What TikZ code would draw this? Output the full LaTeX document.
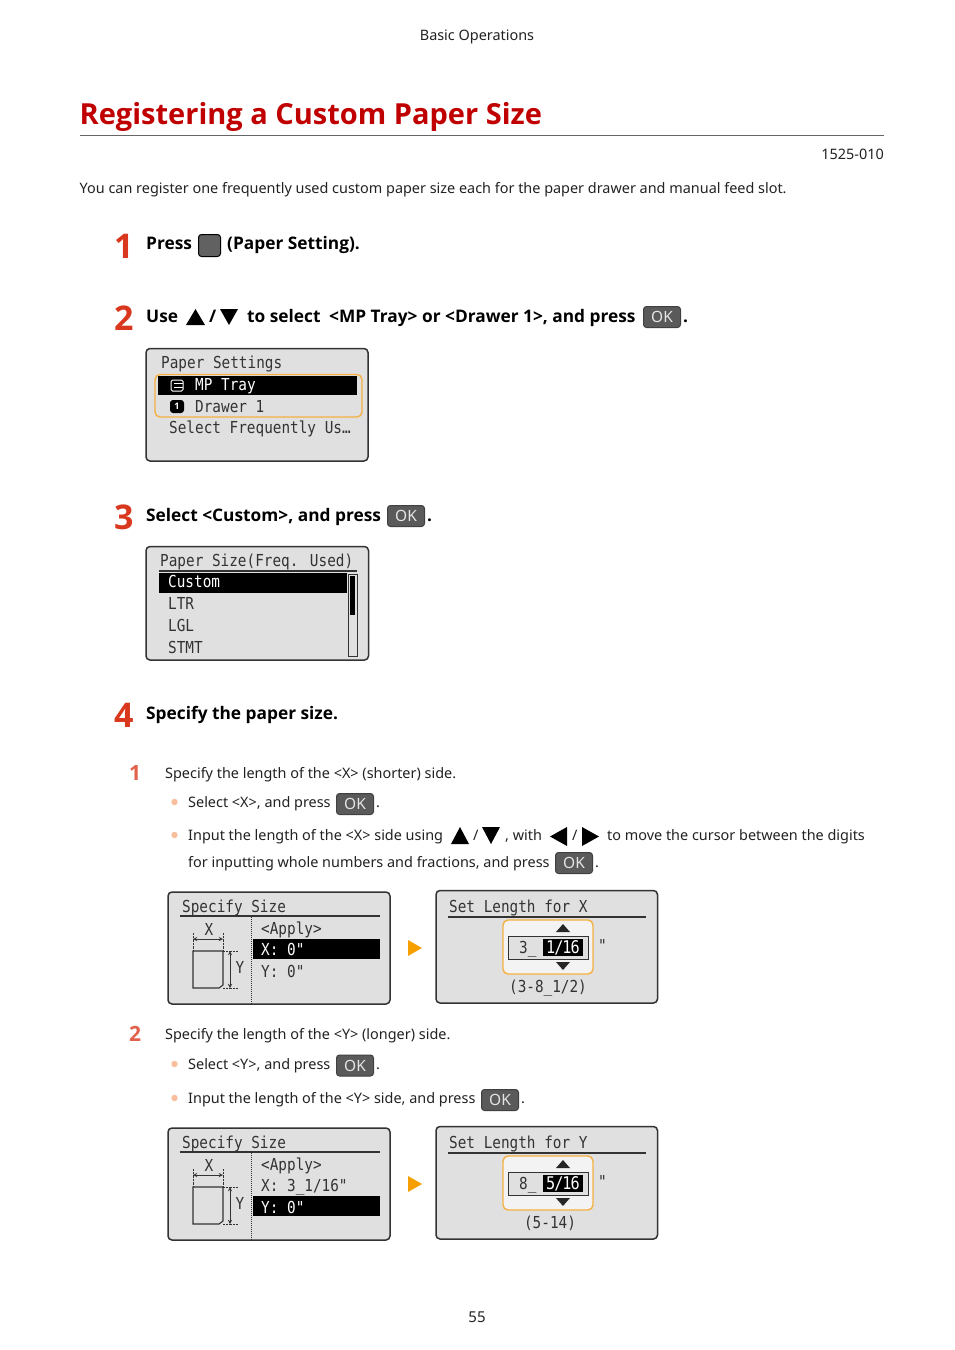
\documentclass[tikz,border=0pt]{standalone}
\usepackage{fontspec}
\usepackage{xcolor}
\setmainfont{Noto Sans}
\newfontfamily\headfont{Open Sans}
\newfontfamily\lcdfont[FakeStretch=0.87]{DejaVu Sans Mono}
\definecolor{titlered}{HTML}{C00000}
\definecolor{numred}{HTML}{D9381E}
\definecolor{subred}{HTML}{E2614B}
\definecolor{bodyink}{HTML}{222222}
\definecolor{lcdgray}{HTML}{E0E0E0}
\definecolor{lcdink}{HTML}{333333}
\definecolor{keygray}{HTML}{5A5A5A}
\definecolor{hilite}{HTML}{F5B041}
\definecolor{nextarrow}{HTML}{F5A000}
\definecolor{bulletc}{HTML}{F9BE9B}
\tikzset{
    txt/.style = {anchor=base west, inner sep=0pt, text=bodyink, font=\fontsize{14.42}{17}\selectfont},
    stepnum/.style = {anchor=base west, inner sep=0pt, text=numred, font=\fontsize{34}{40}\headfont\bfseries},
    subnum/.style = {anchor=base west, inner sep=0pt, text=subred, font=\fontsize{21}{25}\headfont\bfseries},
    steptxt/.style = {anchor=base west, inner sep=0pt, text=black, font=\fontsize{17.3}{21}\headfont\bfseries},
    lcd/.style = {anchor=base west, inner sep=0pt, text=lcdink, font=\fontsize{16.5}{19}\lcdfont},
    lcdrev/.style = {lcd, text=white},
    lcdpanel/.style = {draw=lcdink, line width=1.5pt, fill=lcdgray, rounded corners=4pt},
    hibox/.style = {draw=hilite, line width=1.4pt, fill=lcdgray!40, rounded corners=5pt},
    okkey/.style = {draw=black!75, fill=keygray, line width=1pt, rounded corners=3pt, minimum width=37pt,
        minimum height=21pt, inner sep=0pt, text=white!90!black, font=\fontsize{15.5}{17}\selectfont},
}
% OK key at its centre
\newcommand{\okkey}[3]{\node[okkey] (#1) at (#2,#3) {OK};}
% bullet dot
\newcommand{\bulletdot}[2]{\fill[bulletc] (#1,#2) circle (3.2);}
% left panel, the row bar is given by its top
\newcommand{\sizepanel}[4]{
    \draw[lcdpanel] (168,892) rectangle (390,1004);
    \node[lcd] (#1title) at (182,912) {Specify Size};
    \draw[lcdink, line width=1.2pt] (180,916) -- (380,916);
    \draw[lcdink, line width=1pt, densely dotted] (251,917) -- (251,1004);
    \fill[black] (253,#2) rectangle (380,#2+20);
    \node[lcd] (#1apply) at (261,934) {<Apply>};
    \draw[lcdink, line width=1.1pt] (193,951) -- (223,951) -- (223,985) -- (219,988) -- (193,988) -- cycle;
    \draw[lcdink, densely dotted] (193,933) -- (193,951) (223,933) -- (223,951) (223,951) -- (238,951) (223,988) -- (238,988);
    \coordinate (#1xa) at (193,939);
    \coordinate (#1xb) at (223,939);
    \coordinate (#1ya) at (230,951);
    \coordinate (#1yb) at (230,988);
    \draw[lcdink, line width=.9pt, <->, >=stealth] (#1xa) -- (#1xb);
    \draw[lcdink, line width=.9pt, <->, >=stealth] (#1ya) -- (#1yb);
    \node[lcd, anchor=base] (#1xl) at (209,935) {X};
    \node[lcd, anchor=base] (#1yl) at (240,973) {Y};
    \node[#3] (#1xrow) at (261,955) {X: #4};
}
% right panel
\newcommand{\lengthpanel}[7]{
    \draw[lcdpanel] (436,890.5) rectangle (657.5,1003);
    \node[lcd] (#1title) at (449,912) {Set Length for #2};
    \draw[lcdink, line width=1.2pt] (448,917) -- (646,917);
    \draw[hibox] (503,920) rectangle (593,974);
    \fill[black!85] (563,924) -- (570,932) -- (556,932) -- cycle;
    \fill[black!85] (563,970) -- (570,962) -- (556,962) -- cycle;
    \draw[lcdink, line width=1pt, fill=lcdgray] (508,936) rectangle (588,959);
    \fill[black] (543,939) rectangle (583,956);
    \node[lcd] (#1whole) at (519,953) {#3\_};
    \node[lcdrev, anchor=base] (#1frac) at (563,953) {\fontsize{17.5}{19}\selectfont\addfontfeature{LetterSpace=-6}#4};
    \node[lcd] (#1inch) at (598,951) {"};
    \node[lcd, anchor=base] (#1range) at (#6,#7) {#5};
}
\begin{document}
\begin{tikzpicture}[x=1pt, y=-1pt]
    \useasboundingbox (0,0) rectangle (954,1350);
    \fill[white] (0,0) rectangle (954,1350);
    % Page head
    \node[txt, anchor=base] (head) at (477,40) {Basic Operations};
    \node[anchor=base west, inner sep=0pt, text=titlered, font=\fontsize{29}{34}\headfont\bfseries] (title) at (79.5,124) {Registering a Custom Paper Size};
    \draw[black!60, line width=.6pt] (79.5,135.5) -- (884,135.5);
    \node[txt, anchor=base east] (code) at (884,159) {1525-010};
    \node[txt] (intro) at (79.5,193) {You can register one frequently used custom paper size each for the paper drawer and manual feed slot.};
    % Step 1
    \node[stepnum] (n1) at (114,258) {1};
    \node[steptxt] (s1a) at (146,249) {Press};
    \draw[black, fill=black!62, line width=1pt, rounded corners=3pt] (198.5,234.5) rectangle (220.5,256.5);
    \node[steptxt] (s1b) at (227,249) {(Paper Setting).};
    % Step 2
    \node[stepnum] (n2) at (114,330) {2};
    \node[steptxt] (s2a) at (146,322) {Use};
    \fill[black] (195.5,309) -- (205,325) -- (186,325) -- cycle;
    \node[steptxt] (s2b) at (209,322) {/};
    \fill[black] (229,325) -- (238,309) -- (220,309) -- cycle;
    \node[steptxt] (s2c) at (247,322) {to select};
    \node[steptxt] (s2d) at (329,322) {<MP Tray> or <Drawer 1>, and press};
    \okkey{ok2}{662}{317}
    \node[steptxt] (s2e) at (683,322) {.};
    % Paper Settings panel
    \draw[lcdpanel] (146,348.5) rectangle (368,461);
    \node[lcd] (p1title) at (161,368) {Paper Settings};
    \draw[hibox, fill=none] (155,374.5) rectangle (362,417);
    \fill[black] (158,376) rectangle (357,395);
    \draw[white, line width=1pt, rounded corners=1.5pt] (171,380) rectangle (183,391);
    \draw[white, line width=.8pt] (174,383.5) -- (183,383.5) (174,387) -- (183,387);
    \node[lcdrev] (p1tray) at (195,390) {MP Tray};
    \fill[black, rounded corners=3pt] (170,400) rectangle (184,413);
    \node[anchor=center, inner sep=0pt, text=white, font=\fontsize{9}{10}\headfont\bfseries] (p1one) at (177,406.5) {1};
    \node[lcd] (p1drawer) at (195,412) {Drawer 1};
    \node[lcd] (p1freq) at (169,433) {Select Frequently Us…};
    % Step 3
    \node[stepnum] (n3) at (114,529) {3};
    \node[steptxt] (s3a) at (146,521) {Select <Custom>, and press};
    \okkey{ok3}{406}{516}
    \node[steptxt] (s3b) at (427,521) {.};
    % Paper Size panel
    \draw[lcdpanel] (146,546.5) rectangle (368.5,660);
    \node[lcd] (p2title) at (160,566) {Paper Size(Freq. Used)};
    \draw[lcdink, line width=1.2pt] (159,571) -- (357,571);
    \fill[black] (159,573) rectangle (347,593);
    \draw[lcdink, line width=1pt] (348,574) rectangle (357,656);
    \fill[black] (350,576) rectangle (355,615);
    \node[lcdrev] (p2custom) at (168,587) {Custom};
    \node[lcd] (p2ltr) at (168,609) {LTR};
    \node[lcd] (p2lgl) at (168,631) {LGL};
    \node[lcd] (p2stmt) at (168,653) {STMT};
    % Step 4
    \node[stepnum] (n4) at (114,727) {4};
    \node[steptxt] (s4a) at (146,719) {Specify the paper size.};
    % Substep 1
    \node[subnum] (m1) at (129,780) {1};
    \node[txt] (t1) at (165,778) {Specify the length of the <X> (shorter) side.};
    \bulletdot{174.5}{802}
    \node[txt] (t1a) at (188,807) {Select <X>, and press};
    \okkey{ok4}{355}{804}
    \node[txt] (t1b) at (376,807) {.};
    \bulletdot{174.5}{835}
    \node[txt] (t1c) at (188,840) {Input the length of the <X> side using};
    \fill[black] (460,827) -- (469,844) -- (451,844) -- cycle;
    \node[txt] (t1d) at (473,840) {/};
    \fill[black] (491,844) -- (500,827) -- (482,827) -- cycle;
    \node[txt] (t1e) at (505,840) {, with};
    \fill[black] (550,836.5) -- (567,827) -- (567,846) -- cycle;
    \node[txt] (t1f) at (572,840) {/};
    \fill[black] (599,836.5) -- (582,827) -- (582,846) -- cycle;
    \node[txt] (t1g) at (607,840) {to move the cursor between the digits};
    \node[txt] (t1h) at (188,867.5) {for inputting whole numbers and fractions, and press};
    \okkey{ok5}{574}{863}
    \node[txt] (t1i) at (595,867.5) {.};
    % Panels for X
    \sizepanel{a}{939}{lcdrev}{0"}
    \node[lcd] (ayrow) at (261,977) {Y: 0"};
    \fill[nextarrow] (408,940) -- (422,948) -- (408,956) -- cycle;
    \lengthpanel{c}{X}{3}{1/16}{(3-8\_1/2)}{548}{992}
    % Substep 2
    \node[subnum] (m2) at (129,1041) {2};
    \node[txt] (t2) at (165,1039) {Specify the length of the <Y> (longer) side.};
    \bulletdot{174.5}{1064}
    \node[txt] (t2a) at (188,1069) {Select <Y>, and press};
    \okkey{ok6}{355}{1065.5}
    \node[txt] (t2b) at (376,1069) {.};
    \bulletdot{174.5}{1098}
    \node[txt] (t2c) at (188,1103) {Input the length of the <Y> side, and press};
    \okkey{ok7}{500}{1100}
    \node[txt] (t2d) at (521,1103) {.};
    % Panels for Y
    \begin{scope}[yshift=-236pt]
        \sizepanel{b}{960}{lcd}{3\_1/16"}
        \node[lcdrev] (byrow) at (261,977) {Y: 0"};
        \fill[nextarrow] (408,940) -- (422,948) -- (408,956) -- cycle;
        \lengthpanel{d}{Y}{8}{5/16}{(5-14)}{550}{992}
    \end{scope}
    % Page number
    \node[txt, anchor=base] (page) at (477,1322) {\fontsize{15}{17}\selectfont 55};
\end{tikzpicture}
\end{document}
